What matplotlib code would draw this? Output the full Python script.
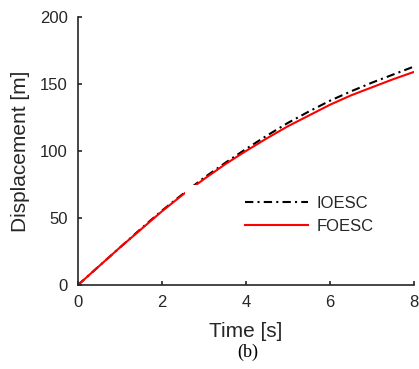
import numpy as np
import matplotlib
matplotlib.use('Agg')
import matplotlib.pyplot as plt
from matplotlib.patches import Rectangle

# Data
time_s = [0, 0.5, 1, 1.5, 2, 2.5, 3, 3.5, 4, 4.5, 5, 5.5, 6, 6.5, 7, 7.5, 8]
ioesc = [0, 14, 28, 42, 55.5, 68, 80, 91, 101.5, 111.5, 121, 129.5, 137.5, 144.5, 151, 157, 163]
foesc = [0, 14, 28, 41.5, 55, 67.5, 79, 90, 100, 109.5, 118.5, 126.5, 134.5, 141.5, 147.5, 153.5, 159]
x_ticks = [0, 2, 4, 6, 8]
y_ticks = [0, 50, 100, 150, 200]

plt.rcParams['font.family'] = ['Liberation Sans', 'DejaVu Sans']
ink = '#262626'

fig = plt.figure(figsize=(4.19, 3.69), dpi=100)
ax = fig.add_axes([0.186, 0.2276, 0.802, 0.7264])

ax.plot(time_s, ioesc, color='black', lw=1.5, dashes=(4, 2, 1, 2), label='IOESC', zorder=2)
ax.plot(time_s, foesc, color='red', lw=1.5, label='FOESC', zorder=2)

# white legend background (covers a bit of the curve, like the original)
ax.add_patch(Rectangle((0.318, 0.12), 0.66, 0.253, transform=ax.transAxes,
                       facecolor='white', edgecolor='none', zorder=3))

leg = ax.legend(loc='center left', bbox_to_anchor=(0.497, 0.261), frameon=False,
                fontsize=12, borderpad=0, borderaxespad=0, handlelength=3.8,
                handletextpad=0.48, labelspacing=0.5)
leg.set_zorder(4)
for t in leg.get_texts():
    t.set_color(ink)

ax.set_xlim(0, 8)
ax.set_ylim(0, 200)
ax.set_xticks(x_ticks)
ax.set_yticks(y_ticks)
ax.tick_params(direction='in', length=3, width=1.2, colors=ink, labelsize=12, pad=7.5)
for s in ['top', 'right']:
    ax.spines[s].set_visible(False)
for s in ['left', 'bottom']:
    ax.spines[s].set_linewidth(1.2)
    ax.spines[s].set_color(ink)

ax.set_xlabel('Time [s]', fontsize=15, color=ink, labelpad=8)
ax.set_ylabel('Displacement [m]', fontsize=15, color=ink, labelpad=7)

fig.text(0.592, 0.045, '(b)', fontsize=13, family='Liberation Serif', ha='center', va='center')

fig.savefig('out.png', dpi=100)
